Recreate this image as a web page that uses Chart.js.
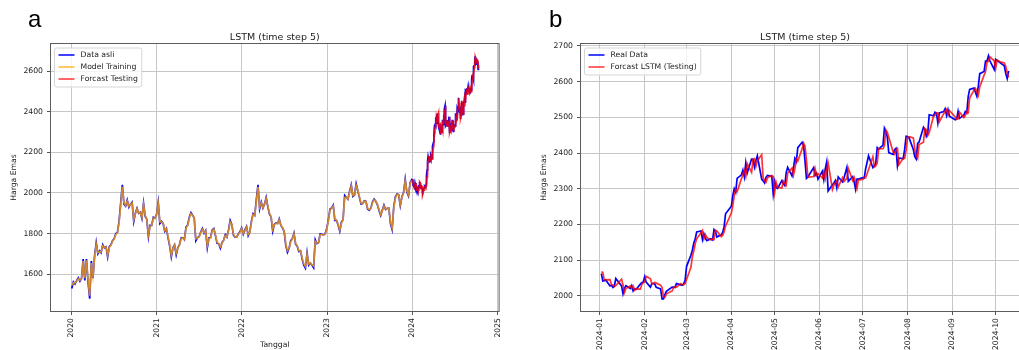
<!DOCTYPE html>
<html>
<head>
<meta charset="utf-8">
<script src="https://cdn.jsdelivr.net/npm/chart.js@4.4.1/dist/chart.umd.min.js"></script>
<style>
  html, body { margin: 0; padding: 0; background: #fff; overflow: hidden; }
  #page { position: relative; width: 1019px; height: 350px; overflow: hidden; }
  .panel { position: absolute; top: 0; width: 510px; height: 350px; }
  .tag { position: absolute; top: 7px; font-family: 'Liberation Sans', sans-serif; font-size: 24px; line-height: 24px; color: #000; }
</style>
</head>
<body>
<div id="page">
  <canvas id="chartA" class="panel" style="left:0" width="510" height="350"></canvas>
  <canvas id="chartB" class="panel" style="left:530px" width="510" height="350"></canvas>
  <div class="tag" style="left:28px">a</div>
  <div class="tag" style="left:549px">b</div>
</div>
<script>
// axis ticks
const yearTicks = [2020, 2021, 2022, 2023, 2024, 2025];
const priceTicksA = [1600, 1800, 2000, 2200, 2400, 2600];
const priceTicksB = [2000, 2100, 2200, 2300, 2400, 2500, 2600, 2700];
const monthTicks = ['2024-01', '2024-02', '2024-03', '2024-04', '2024-05',
                    '2024-06', '2024-07', '2024-08', '2024-09', '2024-10'];

// training period, one close per week starting from trainStart
const trainStart = '2020-01-03';
const trainReal = [
  // 2020
  1530, 1562, 1552, 1568, 1582, 1566, 1580, 1675, 1570, 1675,
  1560, 1480, 1665, 1580, 1690, 1755, 1700, 1715, 1705, 1745,
  1730, 1735, 1685, 1735, 1745, 1765, 1775, 1800, 1805, 1860,
  1950, 2040, 1945, 1935, 1965, 1930, 1945, 1955, 1860, 1900,
  1925, 1900, 1905, 1875, 1950, 1885, 1870, 1785, 1840, 1840,
  1880, 1875,
  // 2021
  1895, 1955, 1850, 1860, 1850, 1812, 1825, 1780, 1740, 1685,
  1730, 1745, 1695, 1730, 1745, 1778, 1780, 1770, 1832, 1842,
  1880, 1903, 1890, 1878, 1765, 1780, 1785, 1808, 1825, 1802,
  1815, 1730, 1778, 1780, 1818, 1825, 1790, 1752, 1750, 1728,
  1755, 1768, 1795, 1783, 1818, 1865, 1845, 1792, 1782, 1782,
  1798, 1810, 1828,
  // 2022
  1797, 1818, 1835, 1790, 1808, 1860, 1898, 1890, 1968, 2040,
  1922, 1955, 1925, 1945, 1978, 1932, 1897, 1882, 1812, 1845,
  1852, 1850, 1872, 1840, 1828, 1810, 1742, 1708, 1727, 1765,
  1775, 1802, 1748, 1738, 1712, 1716, 1675, 1645, 1630, 1705,
  1645, 1655, 1645, 1632, 1770, 1751, 1755, 1798, 1797, 1793,
  1798, 1824,
  // 2023
  1866, 1920, 1926, 1940, 1865, 1865, 1842, 1812, 1855, 1868,
  1988, 1978, 1969, 2008, 2040, 1983, 1990, 2045, 2011, 1978,
  1946, 1948, 1961, 1958, 1921, 1915, 1925, 1955, 1970, 1959,
  1942, 1914, 1889, 1915, 1940, 1919, 1924, 1925, 1849, 1820,
  1932, 1981, 1995, 1992, 1938, 1981, 2002, 2068, 2004, 1985,
  2050, 2066
];
const trainFit = [
  // 2020
  1545, 1558, 1556, 1565, 1578, 1570, 1579, 1665, 1580, 1668,
  1570, 1495, 1655, 1590, 1684, 1748, 1706, 1712, 1708, 1740,
  1732, 1733, 1693, 1730, 1743, 1762, 1773, 1796, 1804, 1852,
  1940, 2030, 1952, 1938, 1960, 1934, 1943, 1951, 1868, 1896,
  1922, 1902, 1903, 1879, 1943, 1890, 1871, 1793, 1835, 1840,
  1876, 1875,
  // 2021
  1892, 1948, 1858, 1858, 1851, 1816, 1823, 1785, 1745, 1693,
  1726, 1743, 1703, 1727, 1744, 1774, 1779, 1771, 1826, 1840,
  1876, 1898, 1889, 1878, 1774, 1779, 1784, 1805, 1821, 1804,
  1813, 1740, 1774, 1779, 1814, 1822, 1793, 1757, 1751, 1735,
  1753, 1766, 1791, 1784, 1815, 1858, 1846, 1797, 1784, 1782,
  1796, 1808, 1825,
  // 2022
  1800, 1815, 1832, 1795, 1806, 1855, 1893, 1890, 1960, 2030,
  1930, 1951, 1927, 1943, 1972, 1935, 1900, 1884, 1820, 1842,
  1850, 1850, 1868, 1842, 1830, 1812, 1750, 1716, 1726, 1760,
  1772, 1798, 1752, 1740, 1716, 1715, 1681, 1652, 1638, 1698,
  1650, 1655, 1647, 1640, 1762, 1753, 1755, 1794, 1797, 1793,
  1797, 1820,
  // 2023
  1862, 1914, 1925, 1936, 1870, 1865, 1845, 1818, 1851, 1866,
  1978, 1978, 1970, 2004, 2034, 1987, 1990, 2038, 2013, 1981,
  1950, 1948, 1959, 1958, 1925, 1918, 1924, 1951, 1966, 1960,
  1944, 1917, 1893, 1912, 1936, 1921, 1924, 1925, 1856, 1828,
  1925, 1975, 1992, 1992, 1943, 1978, 2000, 2060, 2010, 1990,
  2045, 2062
];

// test period 2024, daily (month-day)
const testDates = [
  '01-02','01-03','01-04','01-05','01-08','01-09','01-10','01-11','01-12','01-16','01-17','01-18','01-19','01-22','01-23','01-24','01-25','01-26','01-29','01-30','01-31',
  '02-01','02-02','02-05','02-06','02-07','02-08','02-09','02-12','02-13','02-14','02-15','02-16','02-20','02-21','02-22','02-23','02-26','02-27','02-28','02-29',
  '03-01','03-04','03-05','03-06','03-07','03-08','03-11','03-12','03-13','03-14','03-15','03-18','03-19','03-20','03-21','03-22','03-25','03-26','03-27','03-28',
  '04-01','04-02','04-03','04-04','04-05','04-08','04-09','04-10','04-11','04-12','04-15','04-16','04-17','04-18','04-19','04-22','04-23','04-24','04-25','04-26','04-29','04-30',
  '05-01','05-02','05-03','05-06','05-07','05-08','05-09','05-10','05-13','05-14','05-15','05-16','05-17','05-20','05-21','05-22','05-23','05-24','05-28','05-29','05-30','05-31',
  '06-03','06-04','06-05','06-06','06-07','06-10','06-11','06-12','06-13','06-14','06-17','06-18','06-20','06-21','06-24','06-25','06-26','06-27','06-28',
  '07-01','07-02','07-03','07-05','07-08','07-09','07-10','07-11','07-12','07-15','07-16','07-17','07-18','07-19','07-22','07-23','07-24','07-25','07-26','07-29','07-30','07-31',
  '08-01','08-02','08-05','08-06','08-07','08-08','08-09','08-12','08-13','08-14','08-15','08-16','08-19','08-20','08-21','08-22','08-23','08-26','08-27','08-28','08-29','08-30',
  '09-03','09-04','09-05','09-06','09-09','09-10','09-11','09-12','09-13','09-16','09-17','09-18','09-19','09-20','09-23','09-24','09-25','09-26','09-27','09-30',
  '10-01','10-02','10-03','10-04','10-07','10-08','10-09','10-10'
];
const testReal = [
  2063,2042,2043,2045,2028,2030,2024,2028,2049,2028,2006,2022,2029,2021,2029,2014,2020,2018,2033,2037,2039,
  2054,2039,2025,2035,2035,2033,2024,2020,1992,1992,2004,2013,2025,2025,2024,2035,2031,2030,2034,2044,
  2083,2114,2128,2148,2160,2179,2182,2158,2174,2162,2155,2160,2157,2186,2181,2165,2171,2178,2194,2230,
  2251,2280,2300,2290,2329,2339,2352,2333,2372,2344,2383,2383,2361,2379,2392,2327,2322,2316,2332,2337,2335,2286,
  2320,2303,2301,2323,2314,2309,2346,2360,2336,2358,2385,2376,2415,2430,2421,2378,2329,2333,2359,2337,2343,2327,
  2349,2326,2355,2375,2294,2311,2316,2323,2303,2333,2319,2330,2360,2321,2334,2320,2299,2327,2327,
  2331,2330,2356,2392,2359,2364,2372,2415,2411,2422,2469,2459,2445,2401,2396,2409,2413,2364,2386,2384,2410,2447,
  2446,2443,2410,2390,2383,2427,2431,2472,2465,2447,2456,2507,2504,2514,2512,2484,2512,2516,2524,2505,2521,2503,
  2493,2495,2517,2497,2506,2516,2512,2558,2578,2582,2570,2559,2587,2622,2628,2657,2657,2672,2658,2634,
  2662,2659,2656,2653,2644,2622,2608,2630
];
const testForecast = [
  2068,2066,2046,2045,2046,2031,2031,2026,2029,2047,2030,2010,2021,2028,2022,2028,2016,2020,2019,2032,2037,
  2040,2055,2048,2033,2036,2038,2036,2030,2025,1998,1996,2006,2014,2024,2026,2025,2035,2032,2031,2035,
  2046,2080,2110,2126,2146,2160,2177,2183,2160,2172,2164,2157,2160,2158,2184,2182,2166,2170,2180,2196,
  2232,2253,2281,2299,2292,2328,2340,2351,2335,2370,2346,2381,2384,2362,2378,2395,2330,2323,2318,2331,2337,2334,
  2290,2318,2304,2302,2321,2315,2310,2344,2358,2338,2356,2383,2377,2412,2428,2420,2380,2332,2334,2356,2338,2342,
  2330,2347,2328,2352,2372,2298,2310,2316,2322,2305,2331,2320,2330,2357,2323,2332,2321,2301,2325,
  2326,2332,2331,2354,2390,2361,2364,2372,2412,2412,2421,2465,2458,2444,2403,2397,2408,2412,2367,2385,2385,2408,
  2444,2446,2442,2412,2392,2385,2424,2430,2469,2465,2449,2457,2503,2505,2513,2512,2487,2510,2516,2522,2507,2519,
  2501,2495,2496,2514,2499,2505,2515,2513,2554,2576,2581,2571,2561,2585,2618,2627,2654,2657,2669,2658,
  2636,2660,2658,2655,2652,2643,2624,2612
];

const DAY = 86400000;

function parseDate(s) {
  const [y, m, d] = s.split('-').map(Number);
  return { y, t: Date.UTC(y, m - 1, d) };
}

function toYear(s) {
  const { y, t } = parseDate(s);
  const t0 = Date.UTC(y, 0, 1), t1 = Date.UTC(y + 1, 0, 1);
  return y + (t - t0) / (t1 - t0);
}

function dayOf2024(s) {
  return (parseDate(s).t - Date.UTC(2024, 0, 1)) / DAY;
}

function weekDate(i) {
  return new Date(parseDate(trainStart).t + i * 7 * DAY).toISOString().slice(0, 10);
}

const COL_REAL = 'rgb(0,0,255)';
const COL_TRAIN = 'rgba(255,165,0,0.8)';
const COL_TEST = 'rgba(255,0,0,0.8)';
const GRID = '#c6c6c6';

// matplotlib-like frame around the plot area
const frame = {
  id: 'frame',
  afterDraw(chart) {
    const { ctx, chartArea: a } = chart;
    ctx.save();
    ctx.strokeStyle = '#5c5c5c';
    ctx.lineWidth = 1;
    ctx.strokeRect(a.left - 0.5, a.top - 0.5, a.width + 1, a.height + 1);
    ctx.restore();
  }
};

// title centered on the plot area
const plotTitle = {
  id: 'plotTitle',
  afterDraw(chart) {
    const { ctx, chartArea: a } = chart;
    ctx.save();
    ctx.font = '9.5px "DejaVu Sans"';
    ctx.fillStyle = '#222';
    ctx.textAlign = 'center';
    ctx.textBaseline = 'alphabetic';
    ctx.fillText('LSTM (time step 5)', (a.left + a.right) / 2, a.top - 4.5);
    ctx.restore();
  }
};

// legend box in the upper left corner of the plot
const boxLegend = {
  id: 'boxLegend',
  afterDraw(chart) {
    const { ctx, chartArea: a } = chart;
    const items = chart.data.datasets;
    ctx.save();
    ctx.font = '7.7px "DejaVu Sans"';
    const textW = Math.max(...items.map(d => ctx.measureText(d.label).width));
    const x0 = a.left + 3.5, y0 = a.top + 4;
    const w = textW + 30, h = items.length * 12 + 3;
    ctx.beginPath();
    ctx.roundRect(x0, y0, w, h, 2);
    ctx.fillStyle = 'rgba(255,255,255,0.8)';
    ctx.fill();
    ctx.strokeStyle = '#d6d6d6';
    ctx.lineWidth = 1;
    ctx.stroke();
    items.forEach((d, i) => {
      const cy = y0 + 7 + i * 12;
      ctx.beginPath();
      ctx.moveTo(x0 + 4, cy);
      ctx.lineTo(x0 + 20, cy);
      ctx.strokeStyle = d.borderColor;
      ctx.lineWidth = 1.5;
      ctx.stroke();
      ctx.fillStyle = '#222';
      ctx.textBaseline = 'middle';
      ctx.fillText(d.label, x0 + 26, cy);
    });
    ctx.restore();
  }
};

Chart.defaults.font.family = '"DejaVu Sans", sans-serif';
Chart.defaults.font.size = 7.7;
Chart.defaults.color = '#222';

function line(label, points, color, order) {
  return {
    label, data: points, borderColor: color, backgroundColor: color,
    borderWidth: 1.7, pointRadius: 0, fill: false, tension: 0, order
  };
}

function buildOptions(cfg) {
  const grid = { color: GRID, lineWidth: 1, tickLength: 4, tickColor: '#555', drawTicks: true };
  return {
    responsive: false,
    animation: false,
    devicePixelRatio: 1,
    layout: { padding: { left: 0, right: 11, top: 44, bottom: 0 } },
    plugins: { legend: { display: false }, tooltip: { enabled: false } },
    scales: {
      x: {
        type: 'linear',
        min: cfg.xMin, max: cfg.xMax,
        afterBuildTicks: s => { s.ticks = cfg.xTicks.map(v => ({ value: v })); },
        afterFit: s => { s.height = 39; },
        ticks: {
          autoSkip: false, minRotation: 90, maxRotation: 90, padding: 3,
          callback: (v, i) => cfg.xLabels[i]
        },
        grid,
        border: { display: false },
        title: {
          display: !!cfg.xTitle, text: cfg.xTitle || '',
          font: { size: 7.7 }, padding: { top: 0, bottom: 0.6 }
        }
      },
      y: {
        type: 'linear',
        min: cfg.yMin, max: cfg.yMax,
        afterBuildTicks: s => { s.ticks = cfg.yTicks.map(v => ({ value: v })); },
        afterFit: s => { s.width = 51; },
        ticks: { padding: 4, callback: v => String(v) },
        grid,
        border: { display: false },
        title: {
          display: true, text: 'Harga Emas',
          font: { size: 7.7 }, padding: { top: 9.6, bottom: 0 }
        }
      }
    }
  };
}

// panel a: whole period
const trainPts = trainReal.map((v, i) => ({ x: toYear(weekDate(i)), y: v }));
const fitPts = trainFit.map((v, i) => ({ x: toYear(weekDate(i)), y: v }));
const testPtsA = testReal.map((v, i) => ({ x: toYear('2024-' + testDates[i]), y: v }));
const forecastPtsA = testForecast.map((v, i) => ({ x: toYear('2024-' + testDates[i]), y: v }));

new Chart(document.getElementById('chartA'), {
  type: 'line',
  data: {
    datasets: [
      line('Data asli', trainPts.concat(testPtsA), COL_REAL, 3),
      line('Model Training', fitPts, COL_TRAIN, 2),
      line('Forcast Testing', forecastPtsA, COL_TEST, 1)
    ]
  },
  options: buildOptions({
    xMin: 2019.762, xMax: 2025.01,
    xTicks: yearTicks, xLabels: yearTicks.map(String), xTitle: 'Tanggal',
    yMin: 1419, yMax: 2733, yTicks: priceTicksA
  }),
  plugins: [frame, plotTitle, boxLegend]
});

// panel b: test period only, x in days since 2024-01-01
const testPtsB = testReal.map((v, i) => ({ x: dayOf2024('2024-' + testDates[i]), y: v }));
const forecastPtsB = testForecast.map((v, i) => ({ x: dayOf2024('2024-' + testDates[i]), y: v }));

new Chart(document.getElementById('chartB'), {
  type: 'line',
  data: {
    datasets: [
      line('Real Data', testPtsB, COL_REAL, 2),
      line('Forcast LSTM (Testing)', forecastPtsB, COL_TEST, 1)
    ]
  },
  options: buildOptions({
    xMin: -13.1, xMax: 297.1,
    xTicks: monthTicks.map(m => dayOf2024(m + '-01')), xLabels: monthTicks, xTitle: '',
    yMin: 1958, yMax: 2705, yTicks: priceTicksB
  }),
  plugins: [frame, plotTitle, boxLegend]
});
</script>
</body>
</html>
